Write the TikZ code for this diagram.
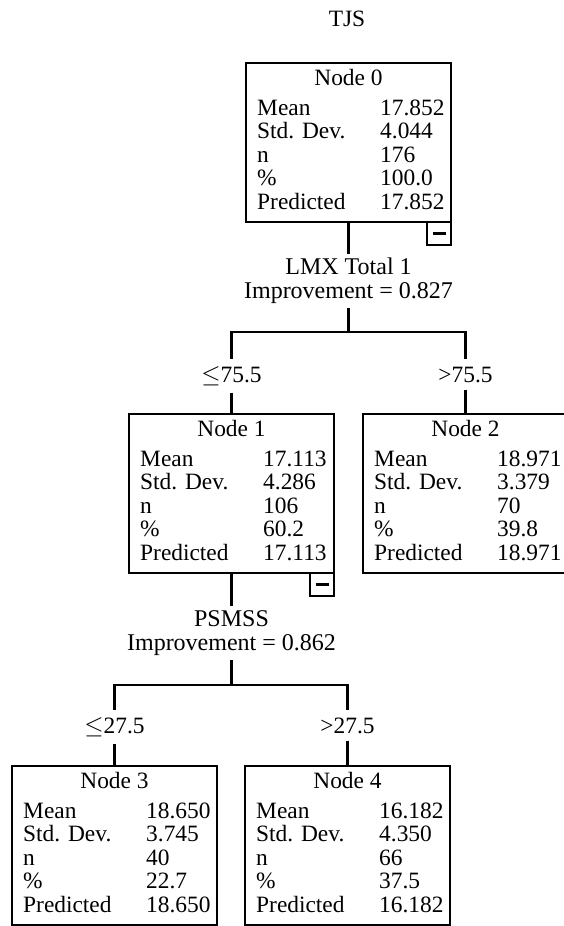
\documentclass[tikz,border=0pt]{standalone}
\usepackage{fontspec}
\setmainfont{Liberation Serif}
\newcommand\statbox[9]{%
  \node[statframe, anchor=north west] (#1) at (#2,#3) {};
  \node[titletext] (#1-title) at ({#2+102.5},{#3+22}) {#9};
  \node[rowtext] (#1-k1) at ({#2+10},{#3+52}) {Mean};
  \node[rowtext] (#1-v1) at ({#2+133},{#3+52}) {#4};
  \node[rowtext] (#1-k2) at ({#2+10},{#3+75.5}) {Std. Dev.};
  \node[rowtext] (#1-v2) at ({#2+133},{#3+75.5}) {#5};
  \node[rowtext] (#1-k3) at ({#2+10},{#3+99}) {n};
  \node[rowtext] (#1-v3) at ({#2+133},{#3+99}) {#6};
  \node[rowtext] (#1-k4) at ({#2+10},{#3+122.5}) {\%};
  \node[rowtext] (#1-v4) at ({#2+133},{#3+122.5}) {#7};
  \node[rowtext] (#1-k5) at ({#2+10},{#3+146}) {Predicted};
  \node[rowtext] (#1-v5) at ({#2+133},{#3+146}) {#8};
}
\begin{document}
\begin{tikzpicture}[x=1pt, y=-1pt, line width=2.4pt,
  every node/.style={font=\fontsize{23.4}{24}\selectfont},
  statframe/.style={draw, rectangle, minimum width=205pt, minimum height=159pt, outer sep=0pt, inner sep=0pt},
  titletext/.style={anchor=base, inner sep=0pt},
  rowtext/.style={anchor=base west, inner sep=0pt},
  minusbox/.style={draw, rectangle, minimum width=24pt, minimum height=23pt, outer sep=0pt, inner sep=0pt, anchor=north east,
    path picture={\draw[line width=3pt] ([xshift=-6.5pt]path picture bounding box.center) -- ([xshift=6.5pt]path picture bounding box.center);}},
  splittext/.style={align=center, inner xsep=2pt, inner ysep=3pt, font=\fontsize{24}{24}\selectfont},
  cuttext/.style={anchor=base, inner xsep=2pt, inner ysep=6pt}
]
\useasboundingbox (0,0) rectangle (564,926);
\clip (0,0) rectangle (564,926);

\node[titletext] (title) at (347,27) {TJS};

\statbox{n0}{246}{63}{17.852}{4.044}{176}{100.0}{17.852}{Node 0}
\statbox{n1}{129}{414}{17.113}{4.286}{106}{60.2}{17.113}{Node 1}
\statbox{n2}{363}{414}{18.971}{3.379}{70}{39.8}{18.971}{Node 2}
\statbox{n3}{12}{766}{18.650}{3.745}{40}{22.7}{18.650}{Node 3}
\statbox{n4}{245}{766}{16.182}{4.350}{66}{37.5}{16.182}{Node 4}

\node[minusbox] (n0m) at (n0.south east) {};
\node[minusbox] (n1m) at (n1.south east) {};

% first split
\node[splittext] (s0) at (348.5,281) {LMX Total 1\\Improvement = 0.827};
\coordinate (b0) at (348.5,332);
\node[cuttext] (c1) at (231.5,382) {$\leq$75.5};
\node[cuttext] (c2) at (465.5,382) {>75.5};
\draw (n0.south) -- (s0.north);
\draw (s0.south) -- (b0);
\draw (c1.north) -- (c1.north |- b0) -- (c2.north |- b0) -- (c2.north);
\draw (c1.south) -- (n1.north);
\draw (c2.south) -- (n2.north);

% second split
\node[splittext] (s1) at (231.5,633) {PSMSS\\Improvement = 0.862};
\coordinate (b1) at (231.5,685);
\node[cuttext] (c3) at (114.5,733) {$\leq$27.5};
\node[cuttext] (c4) at (347.5,733) {>27.5};
\draw (n1.south) -- (s1.north);
\draw (s1.south) -- (b1);
\draw (c3.north) -- (c3.north |- b1) -- (c4.north |- b1) -- (c4.north);
\draw (c3.south) -- (n3.north);
\draw (c4.south) -- (n4.north);
\end{tikzpicture}
\end{document}
